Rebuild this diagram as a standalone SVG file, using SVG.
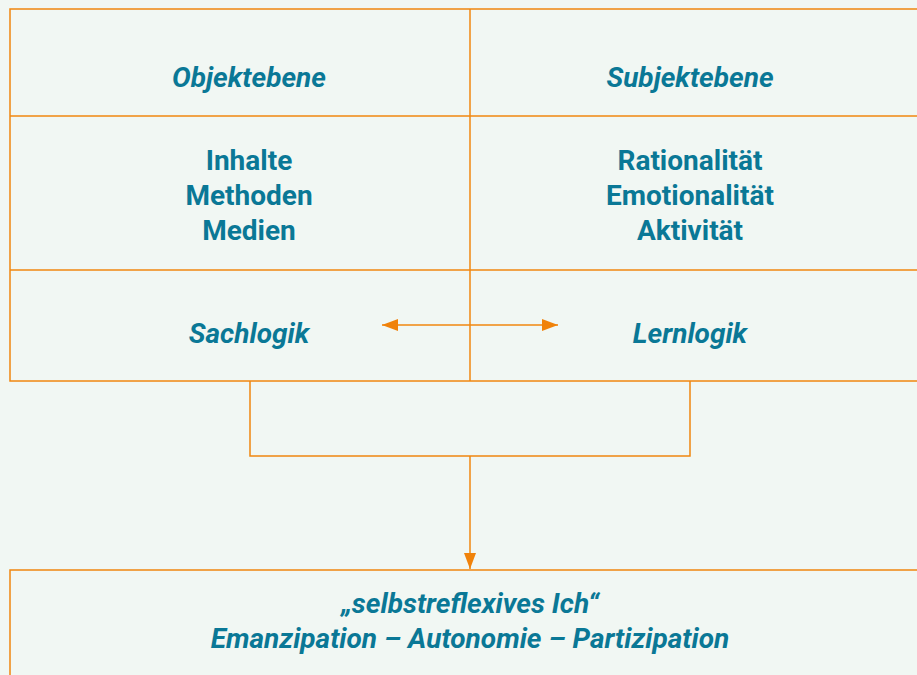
<svg xmlns="http://www.w3.org/2000/svg" width="917" height="675" viewBox="0 0 917 675">
<style>
.bg{fill:#f1f7f3}
.box{fill:#f1f7f3;stroke:#f0870f;stroke-width:1.5}
.ln{fill:none;stroke:#f0870f;stroke-width:1.5}
.t{font-family:Roboto,"Liberation Sans",sans-serif;font-weight:bold;font-size:28px;fill:#0a7896;text-anchor:middle}
.i{font-style:italic}
</style>
<defs>
<marker id="ah" viewBox="0 0 16 12" refX="16" refY="6" markerWidth="16" markerHeight="12" markerUnits="userSpaceOnUse" orient="auto-start-reverse">
<path d="M0,0 L16,6 L0,12 Z" fill="#f0820a"/>
</marker>
</defs>
<rect class="bg" x="0" y="0" width="917" height="675"/>
<g id="table">
<rect class="box" x="10" y="9" width="920" height="372"/>
<line class="ln" x1="10" y1="116" x2="917" y2="116"/>
<line class="ln" x1="10" y1="270" x2="917" y2="270"/>
<line class="ln" x1="470" y1="9" x2="470" y2="381"/>
</g>
<g id="objektebene"><text class="t i" x="249" y="87">Objektebene</text></g>
<g id="subjektebene"><text class="t i" x="690" y="87">Subjektebene</text></g>
<g id="objekt-inhalte"><text class="t" x="249" y="170">Inhalte</text><text class="t" x="249" y="205">Methoden</text><text class="t" x="249" y="240">Medien</text></g>
<g id="subjekt-inhalte"><text class="t" x="690" y="170">Rationalität</text><text class="t" x="690" y="205">Emotionalität</text><text class="t" x="690" y="240">Aktivität</text></g>
<g id="sachlogik"><text class="t i" x="249" y="343">Sachlogik</text></g>
<g id="lernlogik"><text class="t i" x="690" y="343">Lernlogik</text></g>
<g id="ich">
<rect class="box" x="10" y="570" width="920" height="120"/>
<text class="t i" x="470" y="613">„selbstreflexives Ich“</text>
<text class="t i" x="470" y="648">Emanzipation – Autonomie – Partizipation</text>
</g>
<g id="connectors">
<line class="ln" x1="382" y1="325" x2="558" y2="325" marker-start="url(#ah)" marker-end="url(#ah)"/>
<polyline class="ln" points="250,381 250,456 690,456 690,381"/>
<line class="ln" x1="470" y1="456" x2="470" y2="569" marker-end="url(#ah)"/>
</g>
</svg>
